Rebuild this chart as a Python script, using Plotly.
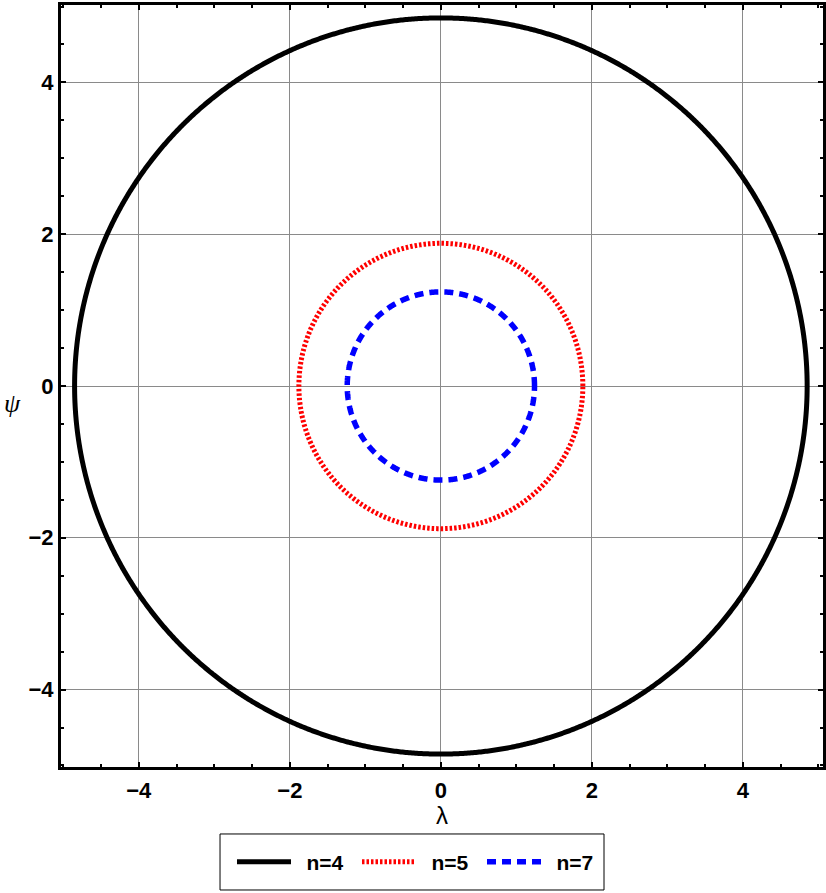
import numpy as np
import plotly.graph_objects as go

# Data
series_names = ["n=4", "n=5", "n=7"]
radii = [4.85, 1.88, 1.24]
colors = ["black", "red", "blue"]
dashes = ["solid", "2.5px,2px", "9px,6px"]
widths = [5, 5, 5.5]
tick_vals = [-4, -2, 0, 2, 4]

theta = np.linspace(0, 2 * np.pi, 1441)

fig = go.Figure()
for name, r, c, d, w in zip(series_names, radii, colors, dashes, widths):
    fig.add_trace(go.Scatter(
        x=r * np.cos(theta), y=r * np.sin(theta), mode="lines", name="\u2002" + name,
        line=dict(color=c, width=w, dash=d, simplify=False),
    ))

axis_common = dict(
    automargin=False,
    showline=True, linecolor="black", linewidth=3, mirror="ticks",
    ticks="inside", ticklen=5, tickwidth=2, tickcolor="black",
    tickvals=tick_vals,
    showgrid=True, gridcolor="#8a8a8a", gridwidth=1,
    zeroline=True, zerolinecolor="#8a8a8a", zerolinewidth=1,
    minor=dict(dtick=0.5, ticks="inside", ticklen=3, tickwidth=2, tickcolor="black", showgrid=False),
    tickfont=dict(family="Liberation Sans", size=22, color="black", weight="bold"),
)

fig.update_xaxes(range=[-5.03, 5.06], ticklabelstandoff=2, **axis_common)
fig.update_yaxes(range=[-5.02, 5.02], ticklabelstandoff=0, **axis_common)

fig.update_layout(
    template="none",
    width=826, height=893,
    margin=dict(l=61, r=3, t=5, b=126),
    plot_bgcolor="white", paper_bgcolor="white",
    showlegend=True,
    legend=dict(
        orientation="h", x=0.2244, xanchor="left", y=-0.1247, yanchor="middle",
        borderwidth=0, bgcolor="rgba(0,0,0,0)",
        font=dict(family="Liberation Sans", size=21, color="black", weight="bold"),
        itemwidth=54, entrywidth=56, entrywidthmode="pixels",
    ),
    shapes=[
        dict(type="rect", xref="paper", yref="paper", x0=0.2087, x1=0.7126, y0=-0.1614, y1=-0.0879,
             line=dict(color="black", width=1), fillcolor="rgba(0,0,0,0)", layer="below"),
    ],
    annotations=[
        dict(text="λ", x=0.5, y=-0.063, xref="paper", yref="paper", showarrow=False,
             font=dict(family="Liberation Sans", size=24, color="black"), xanchor="center", yanchor="middle"),
        dict(text="<i>ψ</i>", x=-0.064, y=0.477, xref="paper", yref="paper", showarrow=False,
             font=dict(family="Liberation Serif", size=26, color="black"), xanchor="center", yanchor="middle"),
    ],
)

fig.write_html("out.html", config={"displayModeBar": False},
               post_script="document.body.style.margin='0';document.body.style.overflow='hidden';")
